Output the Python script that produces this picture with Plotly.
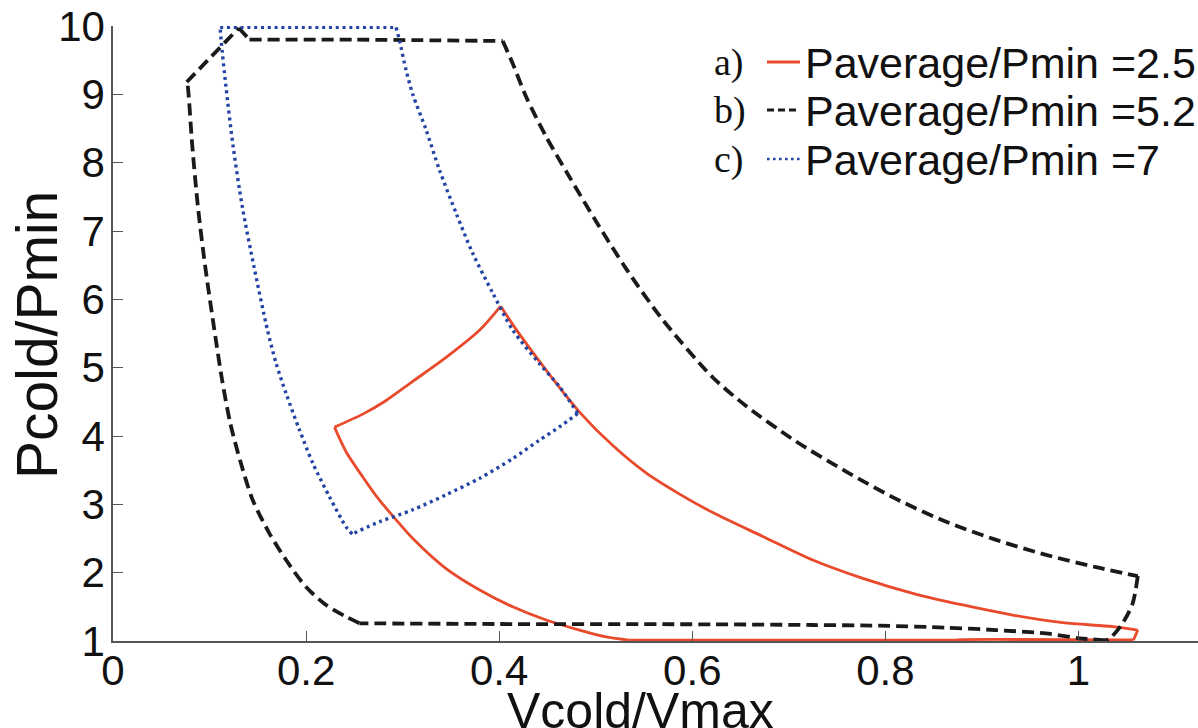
import plotly.graph_objects as go

# Pcold/Pmin vs Vcold/Vmax loops for three pressure ratios
# a) Paverage/Pmin = 2.5
a_v = [0.2294, 0.2587, 0.2829, 0.3105, 0.345, 0.3798, 0.4016,
       0.4175, 0.4486, 0.4832, 0.5177, 0.5521, 0.5868, 0.6212, 0.673, 0.7248,
       0.7766, 0.8284, 0.8802, 0.9319, 0.9837, 1.0355, 1.0614,
       1.057, 0.88, 0.87, 0.535,
       0.5107, 0.4832, 0.4486, 0.414, 0.3798, 0.345, 0.3105, 0.2919,
       0.276, 0.2587, 0.2414, 0.2294]
a_p = [4.13, 4.32, 4.52, 4.80, 5.15, 5.55, 5.90,
       5.56, 4.965, 4.35, 3.86, 3.46, 3.15, 2.88, 2.53, 2.185,
       1.917, 1.698, 1.527, 1.38, 1.268, 1.21, 1.16,
       1.015, 1.02, 1.012, 1.012,
       1.06, 1.16, 1.307, 1.50, 1.746, 2.06, 2.50, 2.795,
       3.06, 3.40, 3.77, 4.13]
a_corners = [0, 6, 22, 23, 26, 38]

# b) Paverage/Pmin = 5.2
b_v = [0.0764, 0.1303, 0.1414, 0.25, 0.4037,
       0.414, 0.428, 0.4486, 0.4728, 0.5004, 0.5314, 0.5694, 0.621, 0.6557,
       0.7075, 0.7593, 0.811, 0.8629, 0.9147, 0.9664, 1.0182, 1.0614,
       1.0561, 1.0457, 1.032, 1.028,
       1.001, 0.966, 0.9147, 0.863, 0.7939, 0.7248, 0.621, 0.414, 0.2553,
       0.2414, 0.2207, 0.2, 0.1793, 0.162, 0.1448, 0.1325, 0.1215, 0.1130,
       0.1045, 0.0955, 0.0880, 0.0822, 0.0775, 0.0764]
b_p = [9.18, 9.97, 9.80, 9.80, 9.78,
       9.45, 8.96, 8.38, 7.79, 7.14, 6.45, 5.70, 4.86, 4.44,
       3.92, 3.48, 3.08, 2.745, 2.48, 2.26, 2.08, 1.95,
       1.55, 1.26, 1.03, 1.01,
       1.04, 1.11, 1.16, 1.195, 1.224, 1.234, 1.244, 1.248, 1.259,
       1.355, 1.527, 1.79, 2.185, 2.576, 3.06, 3.60, 4.185, 4.82,
       5.60, 6.48, 7.35, 8.23, 9.11, 9.18]
b_corners = [0, 1, 2, 4, 21, 25, 34, 49]

# c) Paverage/Pmin = 7
c_v = [0.111, 0.2932, 0.2967, 0.3036, 0.3105, 0.3243, 0.3382, 0.3554, 0.3727,
       0.3934, 0.414, 0.4417, 0.4625, 0.4814,
       0.4625, 0.4417, 0.414, 0.3796, 0.345, 0.3105, 0.276, 0.2477,
       0.2414, 0.2242, 0.207, 0.1931, 0.1793, 0.169, 0.1600, 0.1460, 0.1340,
       0.1245, 0.1170, 0.112, 0.111]
c_p = [9.98, 9.98, 9.79, 9.35, 9.0, 8.48, 7.89, 7.26, 6.67,
       6.09, 5.55, 5.06, 4.72, 4.33,
       4.135, 3.94, 3.67, 3.38, 3.14, 2.92, 2.745, 2.565,
       2.67, 3.11, 3.60, 4.09, 4.62, 5.06, 5.55, 6.48, 7.35,
       8.23, 9.11, 9.79, 9.98]
c_corners = [0, 1, 13, 21, 34]

x_ticks = [0, 0.2, 0.4, 0.6, 0.8, 1]
x_tick_text = ["0", "0.2", "0.4", "0.6", "0.8", "1"]
y_ticks = [1, 2, 3, 4, 5, 6, 7, 8, 9, 10]

legend_tags = ["a)", "b)", "c)"]
legend_labels = ["Paverage/Pmin =2.5", "Paverage/Pmin =5.2", "Paverage/Pmin =7"]

RED = "#E84A2B"
BLACK = "#1a1a1a"
BLUE = "#2444A4"
SANS = "Liberation Sans, Arial, sans-serif"
SERIF = "Liberation Serif, Times New Roman, serif"

W, H = 1198, 728
L, R, T, B = 113, 0, 26, 87

line_a = dict(color=RED, width=2.8)
line_b = dict(color=BLACK, width=3.8, dash="12px,6px")
line_c = dict(color=BLUE, width=3.4, dash="3px,3.8px")

fig = go.Figure()


def add_loop(vs, ps, corners, line):
    # each edge between two corners is drawn as its own smooth piece
    for i0, i1 in zip(corners[:-1], corners[1:]):
        seg_v = vs[i0:i1 + 1]
        seg_p = ps[i0:i1 + 1]
        shape = "spline" if len(seg_v) > 2 else "linear"
        fig.add_trace(go.Scatter(x=seg_v, y=seg_p, mode="lines",
                                 line=dict(shape=shape, smoothing=0.8, **line),
                                 showlegend=False, hoverinfo="x+y"))


add_loop(a_v, a_p, a_corners, line_a)
add_loop(b_v, b_p, b_corners, line_b)
add_loop(c_v, c_p, c_corners, line_c)

axis_common = dict(showgrid=False, zeroline=False, showline=True,
                   linecolor="#555", linewidth=1.5, ticks="inside",
                   ticklen=10, tickwidth=1.3, tickcolor="#555",
                   tickfont=dict(family=SANS, size=42, color="#111"),
                   mirror=False)
fig.update_xaxes(range=[0, (W - L) / 965.5], tickvals=x_ticks,
                 ticktext=x_tick_text, ticklabelstandoff=-8, **axis_common)
fig.update_yaxes(range=[1, 10], tickvals=y_ticks, ticklabelstandoff=-2,
                 **axis_common)

pw, ph = W - L - R, H - T - B


def px_x(px):
    return (px - L) / pw


def px_y(py):
    return (H - B - py) / ph


# axis titles
fig.add_annotation(text="Vcold/Vmax", xref="paper", yref="paper",
                   x=px_x(640), y=px_y(711), xanchor="center", yanchor="middle",
                   showarrow=False, font=dict(family=SANS, size=50, color="#111"))
fig.add_annotation(text="Pcold/Pmin", xref="paper", yref="paper",
                   x=px_x(37), y=px_y(335), xanchor="center", yanchor="middle",
                   textangle=-90, showarrow=False,
                   font=dict(family=SANS, size=57, color="#111"))

# legend block
rows_y = [62, 110, 159]
styles = [dict(color=RED, width=2.8),
          dict(color=BLACK, width=3, dash="7px,4px"),
          dict(color=BLUE, width=2.6, dash="2.6px,3.4px")]
for tag, lab, yy, st in zip(legend_tags, legend_labels, rows_y, styles):
    fig.add_annotation(text=tag, xref="paper", yref="paper",
                       x=px_x(712), y=px_y(yy), xanchor="left", yanchor="middle",
                       showarrow=False, font=dict(family=SERIF, size=38, color="#111"))
    fig.add_annotation(text=lab, xref="paper", yref="paper",
                       x=px_x(803), y=px_y(yy + 1), xanchor="left", yanchor="middle",
                       showarrow=False, font=dict(family=SANS, size=43, color="#111"))
    fig.add_shape(type="line", xref="paper", yref="paper",
                  x0=px_x(767), x1=px_x(800), y0=px_y(yy), y1=px_y(yy), line=st)

fig.update_layout(width=W, height=H, margin=dict(l=L, r=R, t=T, b=B),
                  paper_bgcolor="white", plot_bgcolor="white")

fig.write_html("out.html")
